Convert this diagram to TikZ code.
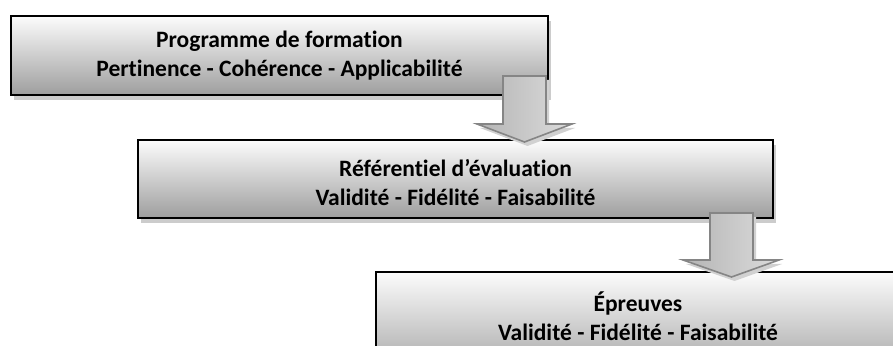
\documentclass[tikz,border=0pt]{standalone}
\usepackage{fontspec}
\setmainfont[Ligatures={NoCommon}]{Carlito}
\usetikzlibrary{shadows}
\definecolor{boxtop}{HTML}{FCFCFC}
\definecolor{boxmid}{HTML}{D6D6D6}
\definecolor{boxbot}{HTML}{9E9E9E}
\definecolor{arrL}{HTML}{B4B4B4}
\definecolor{arrR}{HTML}{DCDCDC}
\definecolor{arrB}{HTML}{858585}
\begin{document}
\begin{tikzpicture}[x=1pt,y=1pt,
  box/.style={draw=black, line width=2.6pt, top color=boxtop, middle color=boxmid, bottom color=boxbot,
    inner sep=0pt, drop shadow={shadow xshift=3pt, shadow yshift=-5pt, fill=black!20, opacity=1}},
  lbl/.style={align=center, inner sep=0pt, font=\fontsize{23.5}{29}\selectfont\bfseries},
  blockarrow/.style={draw=arrB, line width=1.6pt, line join=miter, left color=arrL, right color=arrR,
    drop shadow={shadow xshift=3pt, shadow yshift=-4pt, fill=black!18, opacity=1}}]
\useasboundingbox (0,0) rectangle (893,345);
\clip (0,0) rectangle (893,345);
% boxes
\node[box, minimum width=537pt, minimum height=79pt] (b1) at (279.5,289.5) {};
\node[box, minimum width=635pt, minimum height=78pt] (b2) at (455.5,166) {};
\node[box, minimum width=524pt, minimum height=110pt] (b3) at (638,18) {};
% texts
\node[lbl] (t1) at (b1.center) {Programme de formation\\Pertinence - Cohérence - Applicabilité};
\node[lbl] (t2) at ([yshift=-4pt]b2.center) {Référentiel d’évaluation\\Validité - Fidélité - Faisabilité};
\node[lbl] (t3) at (638,29) {Épreuves\\Validité - Fidélité - Faisabilité};
% block arrows
\path[blockarrow] (503,269) -- (546,269) -- (546,221) -- (572,221) -- (524.5,203) -- (477,221) -- (503,221) -- cycle;
\path[blockarrow] (710,132) -- (753,132) -- (753,85) -- (779,85) -- (731.5,68) -- (683,85) -- (710,85) -- cycle;
\end{tikzpicture}
\end{document}
